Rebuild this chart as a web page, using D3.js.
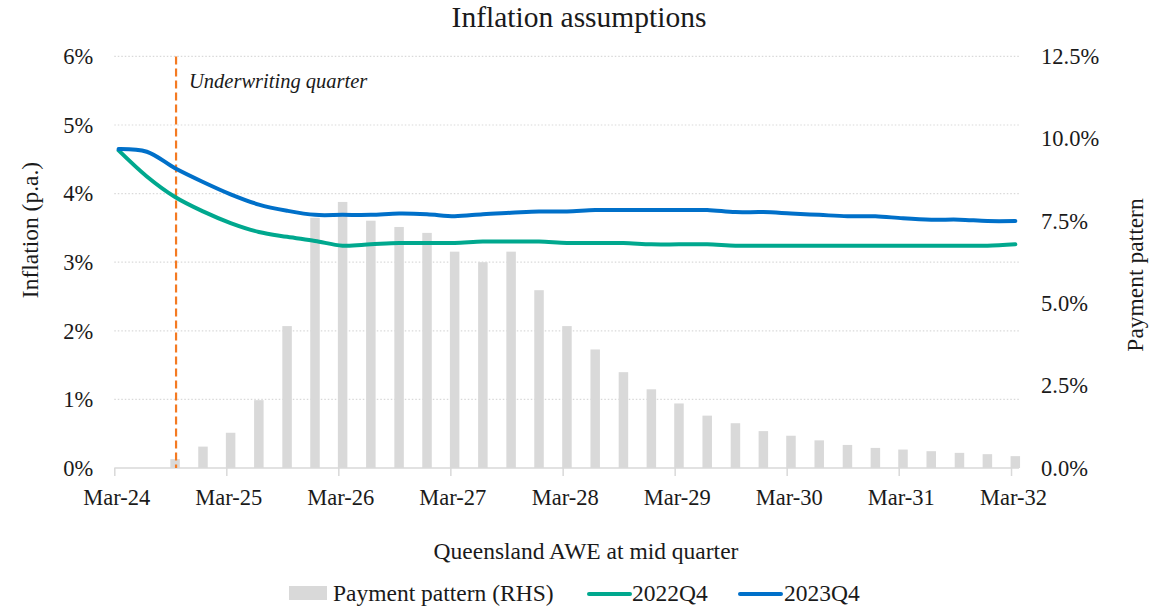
<!DOCTYPE html>
<html>
<head>
<meta charset="utf-8">
<script src="https://cdn.jsdelivr.net/npm/d3@7"></script>
<style>
  html, body { margin: 0; padding: 0; background: #fff; }
  svg { display: block; font-family: "Liberation Serif", "DejaVu Serif", serif; }
</style>
</head>
<body>
<svg id="chart" width="1168" height="610"></svg>
<script>
// Quarterly observation points (AWE measured at mid quarter)
const quarters = [
  "Mar-24","Jun-24","Sep-24","Dec-24","Mar-25","Jun-25","Sep-25","Dec-25",
  "Mar-26","Jun-26","Sep-26","Dec-26","Mar-27","Jun-27","Sep-27","Dec-27",
  "Mar-28","Jun-28","Sep-28","Dec-28","Mar-29","Jun-29","Sep-29","Dec-29",
  "Mar-30","Jun-30","Sep-30","Dec-30","Mar-31","Jun-31","Sep-31","Dec-31",
  "Mar-32"
];

// Inflation assumptions, % p.a.
const infl2022Q4 = [
  4.63, 4.25, 3.95, 3.74, 3.57, 3.44, 3.37, 3.31,
  3.24, 3.26, 3.28, 3.28, 3.28, 3.30, 3.30, 3.30,
  3.28, 3.28, 3.28, 3.26, 3.26, 3.26, 3.24, 3.24,
  3.24, 3.24, 3.24, 3.24, 3.24, 3.24, 3.24, 3.24,
  3.26
];
const infl2023Q4 = [
  4.65, 4.61, 4.37, 4.17, 3.99, 3.84, 3.75, 3.69,
  3.69, 3.69, 3.71, 3.70, 3.67, 3.70, 3.72, 3.74,
  3.74, 3.76, 3.76, 3.76, 3.76, 3.76, 3.73, 3.73,
  3.71, 3.69, 3.67, 3.67, 3.64, 3.62, 3.62, 3.60,
  3.60
];

// Payment pattern (% of total), starting at the underwriting quarter
const underwritingQuarter = "Sep-24";
const paymentPattern = [
  0.27, 0.65, 1.07, 2.06, 4.31, 7.60, 8.08, 7.51,
  7.32, 7.14, 6.57, 6.25, 6.57, 5.40, 4.31, 3.60,
  2.91, 2.39, 1.96, 1.59, 1.36, 1.12, 0.98, 0.84,
  0.70, 0.61, 0.56, 0.51, 0.46, 0.42, 0.36
];

// Axis ticks
const xTickLabels = ["Mar-24","Mar-25","Mar-26","Mar-27","Mar-28","Mar-29","Mar-30","Mar-31","Mar-32"];
const leftTicks = [0, 1, 2, 3, 4, 5, 6];
const rightTicks = [0, 2.5, 5, 7.5, 10, 12.5];

const C = {
  green: "#00A88E",
  blue: "#0070C9",
  bar: "#D9D9D9",
  grid: "#D9D9D9",
  marker: "#F47A22",
  text: "#1a1a1a"
};

const svg = d3.select("#chart");
const plot = { left: 114.3, right: 1019, top: 56.4, bottom: 468 };

const parseMonth = d3.timeParse("%b-%y");
const midMonth = s => d3.timeDay.offset(parseMonth(s), 14);

const x = d3.scaleTime()
  .domain([parseMonth("Mar-24"), d3.timeDay.offset(parseMonth("Mar-32"), 26)])
  .range([plot.left, plot.right]);
const yL = d3.scaleLinear().domain([0, 6]).range([plot.bottom, plot.top]);
const yR = d3.scaleLinear().domain([0, 12.5]).range([plot.bottom, plot.top]);

// Title
svg.append("text")
  .attr("x", 579).attr("y", 27)
  .attr("text-anchor", "middle")
  .attr("font-size", 29.5)
  .attr("fill", C.text)
  .text("Inflation assumptions");

// Horizontal dotted gridlines
svg.append("g")
  .selectAll("line")
  .data(leftTicks.filter(d => d > 0))
  .join("line")
  .attr("x1", plot.left).attr("x2", plot.right)
  .attr("y1", d => yL(d)).attr("y2", d => yL(d))
  .attr("stroke", C.grid)
  .attr("stroke-width", 1.2)
  .attr("stroke-dasharray", "1.5,2");

// Payment pattern bars
const barStart = quarters.indexOf(underwritingQuarter);
const barData = paymentPattern.map((v, i) => ({ q: quarters[barStart + i], v }));
const barW = 9.5;
svg.append("g")
  .selectAll("rect")
  .data(barData)
  .join("rect")
  .attr("x", d => x(midMonth(d.q)) - barW / 2)
  .attr("width", barW)
  .attr("y", d => yR(d.v))
  .attr("height", d => yR(0) - yR(d.v))
  .attr("fill", C.bar);

// X axis
const xAxis = d3.axisBottom(x)
  .tickValues(xTickLabels.map(parseMonth))
  .tickSize(8)
  .tickPadding(13)
  .tickFormat(d3.timeFormat("%b-%y"));
const gx = svg.append("g")
  .attr("transform", `translate(0,${plot.bottom})`)
  .call(xAxis);
gx.select(".domain").attr("stroke", C.grid).attr("stroke-width", 1.5)
  .attr("d", `M${plot.left},0H${plot.right}`);
gx.selectAll(".tick line").attr("stroke", C.grid).attr("stroke-width", 1.5);
gx.selectAll(".tick text")
  .attr("font-family", "Liberation Serif, serif")
  .attr("font-size", 22.5)
  .attr("fill", C.text)
  .attr("dx", 2);

// Left axis
const gl = svg.append("g")
  .attr("transform", `translate(${plot.left},0)`)
  .call(d3.axisLeft(yL).tickValues(leftTicks).tickSize(0).tickPadding(21)
    .tickFormat(d => d + "%"));
gl.select(".domain").remove();
gl.selectAll(".tick text")
  .attr("font-family", "Liberation Serif, serif")
  .attr("font-size", 22.5)
  .attr("fill", C.text);

// Right axis
const gr = svg.append("g")
  .attr("transform", `translate(${plot.right},0)`)
  .call(d3.axisRight(yR).tickValues(rightTicks).tickSize(0).tickPadding(22)
    .tickFormat(d => d3.format(".1f")(d) + "%"));
gr.select(".domain").remove();
gr.selectAll(".tick text")
  .attr("font-family", "Liberation Serif, serif")
  .attr("font-size", 22.5)
  .attr("fill", C.text);

// Underwriting quarter marker
const uwX = x(midMonth(underwritingQuarter)) + 1;
svg.append("line")
  .attr("x1", uwX).attr("x2", uwX)
  .attr("y1", plot.top).attr("y2", plot.bottom)
  .attr("stroke", C.marker)
  .attr("stroke-width", 2.2)
  .attr("stroke-dasharray", "8,4");
svg.append("text")
  .attr("x", uwX + 13).attr("y", 88)
  .attr("font-size", 20.5)
  .attr("font-style", "italic")
  .attr("fill", C.text)
  .text("Underwriting quarter");

// Inflation lines
const line = d3.line()
  .x((d, i) => x(midMonth(quarters[i])))
  .y(d => yL(d))
  .curve(d3.curveCatmullRom.alpha(0.5));

[[infl2022Q4, C.green], [infl2023Q4, C.blue]].forEach(([vals, col]) => {
  svg.append("path")
    .datum(vals)
    .attr("d", line)
    .attr("fill", "none")
    .attr("stroke", col)
    .attr("stroke-width", 4)
    .attr("stroke-linecap", "round")
    .attr("stroke-linejoin", "round");
});

// Axis titles
svg.append("text")
  .attr("transform", "translate(38,230) rotate(-90)")
  .attr("text-anchor", "middle")
  .attr("font-size", 23.5)
  .attr("fill", C.text)
  .text("Inflation (p.a.)");

svg.append("text")
  .attr("transform", "translate(1143,275) rotate(-90)")
  .attr("text-anchor", "middle")
  .attr("font-size", 23.5)
  .attr("fill", C.text)
  .text("Payment pattern");

svg.append("text")
  .attr("x", 586).attr("y", 559)
  .attr("text-anchor", "middle")
  .attr("font-size", 23.5)
  .attr("fill", C.text)
  .text("Queensland AWE at mid quarter");

// Legend
const legend = svg.append("g").attr("font-size", 23.5).attr("fill", C.text);
legend.append("rect")
  .attr("x", 289).attr("y", 586).attr("width", 38).attr("height", 14)
  .attr("fill", C.bar);
legend.append("text").attr("x", 333).attr("y", 601).text("Payment pattern (RHS)");
legend.append("line")
  .attr("x1", 589).attr("x2", 630).attr("y1", 594).attr("y2", 594)
  .attr("stroke", C.green).attr("stroke-width", 4).attr("stroke-linecap", "round");
legend.append("text").attr("x", 632).attr("y", 601).text("2022Q4");
legend.append("line")
  .attr("x1", 740).attr("x2", 781).attr("y1", 594).attr("y2", 594)
  .attr("stroke", C.blue).attr("stroke-width", 4).attr("stroke-linecap", "round");
legend.append("text").attr("x", 784).attr("y", 601).text("2023Q4");
</script>
</body>
</html>
